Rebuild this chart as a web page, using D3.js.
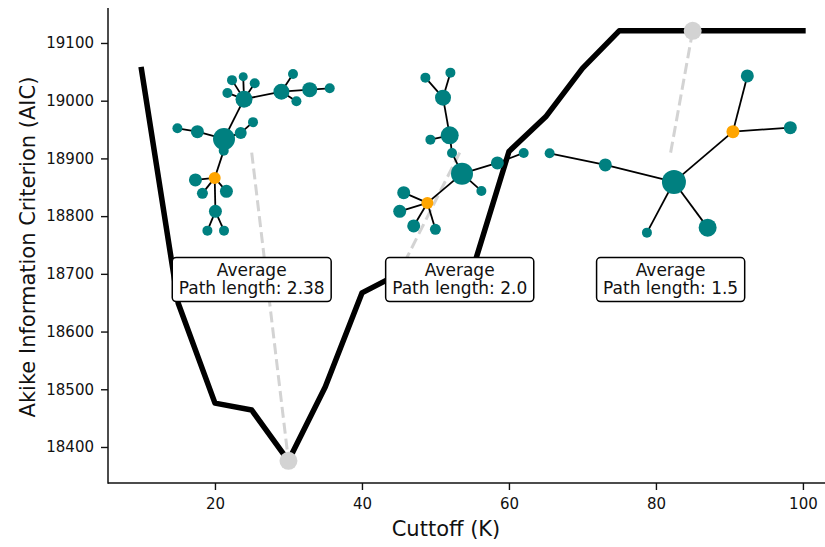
<!DOCTYPE html>
<html><head><meta charset="utf-8">
<script src="https://cdn.jsdelivr.net/npm/d3@7"></script>
<style>
body{margin:0;background:#fff}
svg{display:block}
text{font-family:"DejaVu Sans",sans-serif;fill:#111}
</style>
</head><body>
<svg id="chart" width="825" height="547"></svg>
<script>
// ---------- data ----------
const cutoffs   = [10,15,20,25,30,35,40,45,50,55,60,65,70,75,80,85,90,95,100];
const aicValues = [19054,18649,18476,18464,18376,18504,18667,18700,18702,18705,18912,18972,19056,19121,19121,19121,19121,19121,19121];
const xTicks = [20,40,60,80,100];
const yTicks = [18400,18500,18600,18700,18800,18900,19000,19100];
const highlightCutoffs = [30,45,85];
const pathLengths = ["2.38","2.0","1.5"];
const insetX = [25,53.3,82];
const insetY = 18910;
const labelY = 18690;

// network layouts: [x, y, nodeSize, isFocus]
const net1Nodes = [[-2.77,-1.37,11,0],[-0.77,-5.35,8.5,0],[-7.43,-2.43,5,0],[-5.43,-2.1,6.5,0],[-1.1,-1.97,6,0],[0.13,-3.05,5,0],[-2.8,-0.2,5,0],[-3.7,2.53,6,1],[-5.63,2.73,6.5,0],[-4.93,4.07,5.5,0],[-2.53,3.87,6.5,0],[-3.63,5.87,6.5,0],[-4.43,7.8,5,0],[-2.77,7.8,5,0],[-2.43,-5.97,5,0],[-1.97,-7.25,5,0],[-0.85,-7.6,4.5,0],[0.3,-6.93,5,0],[2.97,-6.1,8,0],[4.13,-7.87,5,0],[4.47,-5.13,5,0],[5.8,-6.3,7.5,0],[7.8,-6.43,5,0]];
const net1Edges = [[0,1],[2,3],[3,0],[0,4],[4,5],[0,6],[6,7],[7,8],[7,9],[7,10],[7,11],[11,12],[11,13],[1,14],[1,15],[1,16],[1,17],[1,18],[18,19],[18,20],[18,21],[21,22]];
const net2Nodes = [[-3.43,-7.5,5,0],[-0.93,-8.0,5,0],[-1.67,-5.5,8,0],[-1.0,-1.73,9,0],[-2.93,-1.3,5,0],[-0.77,0.03,5,0],[0.23,2.1,11,0],[2.17,3.83,5,0],[3.77,1.03,6.5,0],[6.4,0.03,5,0],[-3.23,5.03,6,1],[-5.6,4.0,6.5,0],[-6.0,5.87,6.5,0],[-4.6,7.33,6.5,0],[-2.43,7.67,5.5,0]];
const net2Edges = [[0,2],[1,2],[2,3],[4,3],[3,5],[5,6],[6,7],[6,8],[8,9],[6,10],[10,11],[10,12],[10,13],[10,14]];
const net3Nodes = [[-12.1,0.07,5,0],[-6.53,1.23,6.5,0],[0.33,2.93,12,0],[-2.37,8.0,5,0],[3.7,7.5,9,0],[6.23,-2.1,6.5,1],[7.67,-7.67,6.5,0],[11.97,-2.5,6.5,0]];
const net3Edges = [[0,1],[1,2],[2,3],[2,4],[2,5],[5,6],[5,7]];
const networks = [
  {nodes: net1Nodes, edges: net1Edges},
  {nodes: net2Nodes, edges: net2Edges},
  {nodes: net3Nodes, edges: net3Edges}
];

// ---------- chart ----------
const svg = d3.select("#chart");
const x = d3.scaleLinear().domain([5.5,104.5]).range([108.4,836]);
const y = d3.scaleLinear().domain([18337.6,19160.6]).range([483,8]);
const ink = "#111";

// axes
const gx = svg.append("g").attr("transform","translate(0,483)")
  .call(d3.axisBottom(x).tickValues(xTicks).tickSize(7).tickPadding(8).tickFormat(d3.format("d")));
const gy = svg.append("g").attr("transform","translate(108,0)")
  .call(d3.axisLeft(y).tickValues(yTicks).tickSize(7).tickPadding(7).tickFormat(d3.format("d")));
[gx,gy].forEach(g=>{
  g.selectAll(".domain").attr("stroke",ink).attr("stroke-width",1.5);
  g.selectAll(".tick line").attr("stroke",ink).attr("stroke-width",1.4);
  g.selectAll(".tick text").attr("font-size","15px").attr("fill",ink).style("font-family","DejaVu Sans");
});
gx.select(".domain").attr("d","M108,0H836");
gy.select(".domain").attr("d","M0,8V483.7");

svg.append("text").attr("x",446).attr("y",536).attr("text-anchor","middle")
  .attr("font-size","21px").text("Cuttoff (K)");
svg.append("text").attr("transform","translate(35,247) rotate(-90)").attr("text-anchor","middle")
  .attr("font-size","21px").text("Akike Information Criterion (AIC)");

// main line
const pts = cutoffs.map((c,i)=>({c, v: aicValues[i]}));
svg.append("path").datum(pts)
  .attr("d", d3.line().x(d=>x(d.c)).y(d=>y(d.v)))
  .attr("fill","none").attr("stroke","#000").attr("stroke-width",5.5)
  .attr("stroke-linejoin","round").attr("stroke-linecap","square");

const valueAt = c => aicValues[cutoffs.indexOf(c)];

// dashed pointers from inset centres to the highlighted points
highlightCutoffs.forEach((c,i)=>{
  svg.append("line")
    .attr("x1",x(insetX[i])).attr("y1",y(insetY))
    .attr("x2",x(c)).attr("y2",y(valueAt(c)))
    .attr("stroke","#d3d3d3").attr("stroke-width",3).attr("stroke-dasharray","11,5");
});
svg.selectAll("circle.hl").data(highlightCutoffs).join("circle").attr("class","hl")
  .attr("cx",d=>x(d)).attr("cy",d=>y(valueAt(d))).attr("r",9).attr("fill","#d3d3d3");

// network insets
networks.forEach((net,i)=>{
  const cx = x(insetX[i]), cy = y(insetY);
  const sx = d3.scaleLinear().domain([-1,1]).range([cx-10,cx+10]);
  const sy = d3.scaleLinear().domain([-1,1]).range([cy-10,cy+10]);
  const g = svg.append("g");
  g.selectAll("line").data(net.edges).join("line")
    .attr("x1",e=>sx(net.nodes[e[0]][0])).attr("y1",e=>sy(net.nodes[e[0]][1]))
    .attr("x2",e=>sx(net.nodes[e[1]][0])).attr("y2",e=>sy(net.nodes[e[1]][1]))
    .attr("stroke","#000").attr("stroke-width",1.8);
  g.selectAll("circle").data(net.nodes).join("circle")
    .attr("cx",n=>sx(n[0])).attr("cy",n=>sy(n[1])).attr("r",n=>n[2])
    .attr("fill",n=>n[3] ? "#FFA500" : "#008080");
});

// text boxes
pathLengths.forEach((p,i)=>{
  const cx = x(insetX[i]), cy = y(labelY);
  const g = svg.append("g");
  const rect = g.append("rect");
  const t1 = g.append("text").attr("x",cx).attr("y",cy-3.5).attr("text-anchor","middle").attr("font-size","17px").text("Average");
  const t2 = g.append("text").attr("x",cx).attr("y",cy+14.8).attr("text-anchor","middle").attr("font-size","17px").text("Path length: " + p);
  const w = Math.max(t1.node().getComputedTextLength(), t2.node().getComputedTextLength()) + 13;
  rect.attr("x",cx-w/2).attr("y",cy-22).attr("width",w).attr("height",44)
    .attr("rx",4).attr("ry",4).attr("fill","#fff").attr("stroke","#000").attr("stroke-width",1.5);
});
</script>
</body></html>
